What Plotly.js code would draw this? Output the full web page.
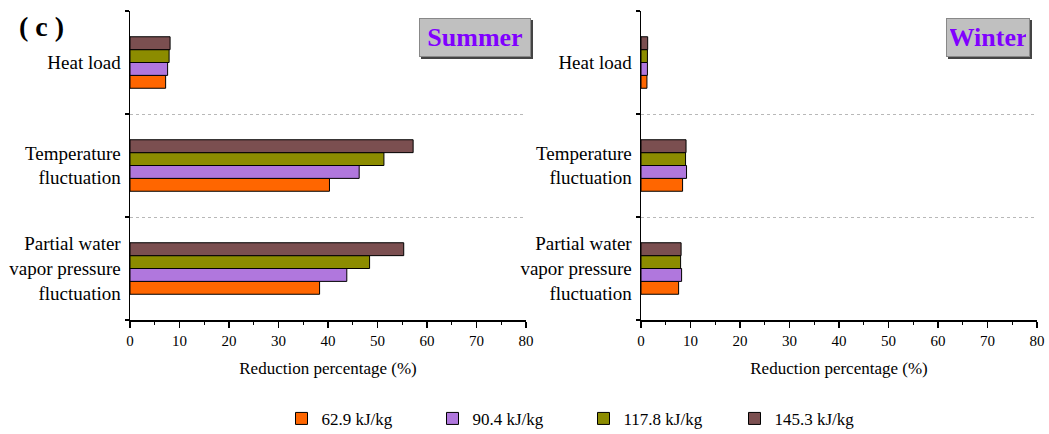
<!DOCTYPE html>
<html>
<head>
<meta charset="utf-8">
<script src="https://cdn.plot.ly/plotly-3.0.1.min.js"></script>
<style>html,body{margin:0;padding:0;background:#fff;}#chart{width:1049px;height:434px;}</style>
</head>
<body>
<div id="chart"></div>
<script>
// Categories (bottom to top as drawn)
const categories = ["Partial water<br>vapor pressure<br>fluctuation", "Temperature<br>fluctuation", "Heat load"];
const seriesNames = ["62.9 kJ/kg", "90.4 kJ/kg", "117.8 kJ/kg", "145.3 kJ/kg"];
const seriesColors = ["#FF6600", "#B077DD", "#8C8C00", "#7B4F50"];

// Summer reduction percentage (%) per category, per series
const summer_62_9  = [38.3, 40.3, 7.2];
const summer_90_4  = [43.8, 46.3, 7.6];
const summer_117_8 = [48.4, 51.3, 7.9];
const summer_145_3 = [55.3, 57.2, 8.1];

// Winter reduction percentage (%)
const winter_62_9  = [7.6, 8.4, 1.2];
const winter_90_4  = [8.2, 9.2, 1.3];
const winter_117_8 = [8.0, 9.0, 1.3];
const winter_145_3 = [8.1, 9.1, 1.35];

const xTickVals = [0, 10, 20, 30, 40, 50, 60, 70, 80];

const summer = [summer_62_9, summer_90_4, summer_117_8, summer_145_3];
const winter = [winter_62_9, winter_90_4, winter_117_8, winter_145_3];

const serif = "Liberation Serif, Times New Roman, serif";
const traces = [];
summer.forEach((vals, i) => {
  traces.push({type: "bar", orientation: "h", x: vals, y: categories, name: seriesNames[i],
    xaxis: "x", yaxis: "y", legendgroup: seriesNames[i],
    marker: {color: seriesColors[i], line: {color: "#000", width: 1}}});
});
winter.forEach((vals, i) => {
  traces.push({type: "bar", orientation: "h", x: vals, y: categories, name: seriesNames[i],
    xaxis: "x2", yaxis: "y2", legendgroup: seriesNames[i], showlegend: false,
    marker: {color: seriesColors[i], line: {color: "#000", width: 1}}});
});

function xax(domain, anchor) {
  return {domain: domain, anchor: anchor, range: [0, 80], tickvals: xTickVals,
    ticks: "outside", ticklen: 6, tickwidth: 1.2, tickcolor: "#000",
    minor: {dtick: 5, ticks: "outside", ticklen: 3, tickcolor: "#000", tickwidth: 1},
    showline: true, linecolor: "#000", linewidth: 1.5, showgrid: false, zeroline: false,
    tickfont: {family: serif, size: 15, color: "#000"},
    title: {text: "Reduction percentage (%)", font: {family: serif, size: 17, color: "#000"}, standoff: 14},
    fixedrange: true};
}
function yax(anchor) {
  return {anchor: anchor, type: "category", categoryorder: "array", categoryarray: categories,
    range: [-0.5, 2.5], tickson: "boundaries", ticks: "outside", ticklen: 4, tickwidth: 1.2, tickcolor: "#000",
    showline: true, linecolor: "#000", linewidth: 1.5, showgrid: true, gridcolor: "#b8b8b8", griddash: "dot", gridwidth: 1,
    zeroline: false, ticklabelstandoff: 4,
    tickfont: {family: serif, size: 19, color: "#000"}, fixedrange: true};
}

const labelBox = (txt, x, y, w) => [
  {xref: "paper", yref: "paper", x: x, y: y, xanchor: "center", yanchor: "middle", text: "<b>" + txt + "</b>", showarrow: false,
   xshift: 2, yshift: -2, width: w, height: 31, bgcolor: "#444", bordercolor: "#444", borderwidth: 1, borderpad: 3,
   font: {family: serif, size: 26, color: "#444"}},
  {xref: "paper", yref: "paper", x: x, y: y, xanchor: "center", yanchor: "middle", text: "<b>" + txt + "</b>", showarrow: false,
   width: w, height: 31, bgcolor: "#C0C0C0", bordercolor: "#888", borderwidth: 1, borderpad: 3,
   font: {family: serif, size: 26, color: "#8000FF"}}
];

const layout = {
  width: 1049, height: 434,
  margin: {l: 130, r: 12, t: 11, b: 114, autoexpand: false},
  paper_bgcolor: "#fff", plot_bgcolor: "#fff",
  barmode: "group", bargap: 0.5, bargroupgap: 0,
  xaxis: xax([0, 0.4366], "y"),
  yaxis: yax("x"),
  xaxis2: xax([0.5634, 1], "y2"),
  yaxis2: yax("x2"),
  showlegend: true,
  legend: {orientation: "h", x: 0.5, xanchor: "center", y: -0.32, yanchor: "middle",
    entrywidth: 106, font: {family: serif, size: 17, color: "#000"}, traceorder: "normal"},
  annotations: [
    {xref: "paper", yref: "paper", x: -0.125, y: 0.95, xanchor: "left", yanchor: "middle",
     text: "<b>( c )</b>", showarrow: false, font: {family: serif, size: 28, color: "#000"}},
    ...labelBox("Summer", 0.3804, 0.914, 104),
    ...labelBox("Winter", 0.946, 0.913, 76)
  ]
};

Plotly.newPlot("chart", traces, layout, {displayModeBar: false, staticPlot: true});
</script>
</body>
</html>
